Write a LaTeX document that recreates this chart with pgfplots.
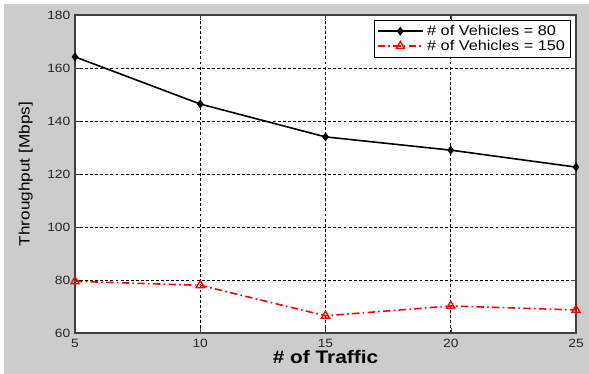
\documentclass[border=0pt]{standalone}
\usepackage{pgfplots}
\pgfplotsset{compat=1.18}
\usepackage{fontspec}
\setmainfont{Liberation Sans}[FakeStretch=1.15]
\definecolor{figgray}{RGB}{204,204,204}
\begin{document}
\begin{tikzpicture}[x=0.75pt,y=0.75pt]
\fill[white] (0,0) rectangle (589,374);
\fill[figgray] (4,0) rectangle (589,370);
\begin{axis}[
  at={(75*0.75pt,41*0.75pt)}, anchor=south west,
  scale only axis, width=501*0.75pt, height=318*0.75pt,
  xmin=5, xmax=25, ymin=60, ymax=180,
  xtick={5,10,15,20,25}, ytick={60,80,...,180},
  axis background/.style={fill=white},
  axis line style={black!75, line width=0.8pt},
  grid=major,
  major grid style={black, dash pattern=on 2.2pt off 1.6pt, line width=0.4pt},
  tick style={black!75},
  tick align=inside,
  major tick length=4pt,
  ticklabel style={font=\fontsize{9}{10}\selectfont, text=black!85},
  xticklabel style={yshift=-1pt},
  /pgf/number format/assume math mode=true,
  xlabel={\bfseries \# of Traffic},
  ylabel={Throughput [Mbps]},
  xlabel style={font=\fontsize{13.6}{14}\selectfont, yshift=5pt},
  ylabel style={font=\fontsize{11.2}{13}\selectfont, yshift=4pt},
  legend style={at={(0.99,0.985)}, anchor=north east, draw=black, fill=white,
    font=\fontsize{10.6}{12.2}\selectfont, inner sep=1.8pt, row sep=-2pt,
    nodes={inner xsep=2.5pt}, cells={anchor=west}},
  legend image code/.code={
    \draw[mark repeat=2,mark phase=2,#1] plot coordinates {(0cm,0cm) (0.6cm,0cm) (1.2cm,0cm)};},
  legend cell align=left,
]
\addplot[black, line width=1.2pt, mark=diamond*, mark size=2.4pt]
  coordinates {(5,164.2) (10,146.4) (15,134) (20,129) (25,122.6)};
\addlegendentry{\# of Vehicles = 80}
\addplot[red, line width=1.2pt, dash pattern=on 5.5pt off 2.5pt on 1.2pt off 2.5pt,
  mark=triangle, mark size=3.5pt, mark options={solid, line width=1pt}]
  coordinates {(5,79.5) (10,78) (15,66.5) (20,70.2) (25,68.7)};
\addlegendentry{\# of Vehicles = 150}
\end{axis}
\end{tikzpicture}
\end{document}
